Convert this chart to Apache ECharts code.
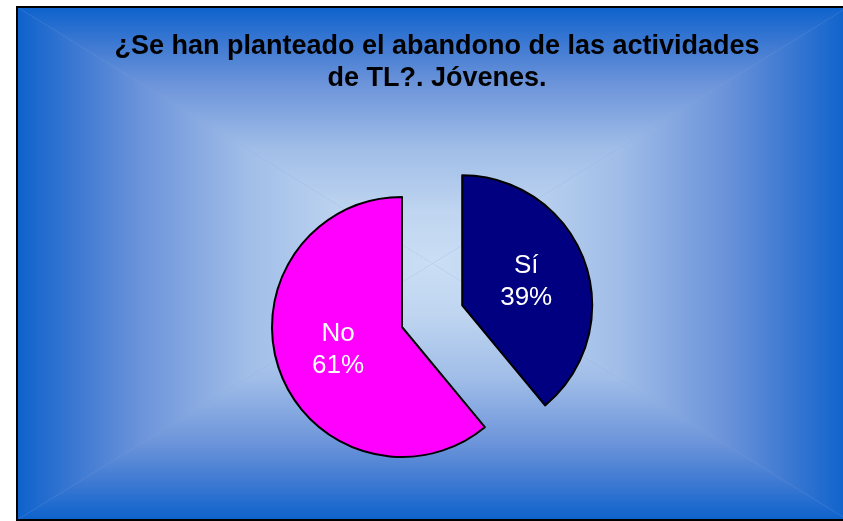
<!DOCTYPE html>
<html>
<head>
<meta charset="utf-8">
<script src="https://cdn.jsdelivr.net/npm/echarts@6/dist/echarts.min.js"></script>
<style>
html,body{margin:0;padding:0;background:#ffffff;}
#chart{width:843px;height:521px;}
</style>
</head>
<body>
<div id="chart"></div>
<script>
const titleLines = ['¿Se han planteado el abandono de las actividades', 'de TL?. Jóvenes.'];
const categories = ['Sí', 'No'];
const values = [39, 61];
const sliceColors = ['#000080', '#ff00ff'];

const chart = echarts.init(document.getElementById('chart'), null, {renderer: 'canvas'});

const L = 17, T = 7, R = 848, B = 520;
const CX = (L + R) / 2, CY = (T + B) / 2;
const stops = [
  {offset: 0, color: '#0d62cc'},
  {offset: 0.15, color: '#3f7ad2'},
  {offset: 0.3, color: '#6c94da'},
  {offset: 0.55, color: '#a0bde8'},
  {offset: 0.8, color: '#bfd5f0'},
  {offset: 1, color: '#cadef4'}
];
function grad(x, y, x2, y2) {
  return {type: 'linear', x: x, y: y, x2: x2, y2: y2, global: true, colorStops: stops};
}
function tri(points, fill) {
  return {type: 'polygon', z: -10, silent: true, shape: {points: points}, style: {fill: fill}};
}

const option = {
  animation: false,
  backgroundColor: '#ffffff',
  graphic: [
    {type: 'rect', z: -11, silent: true, shape: {x: L, y: T, width: R - L, height: B - T}, style: {fill: '#7da3de'}},
    tri([[L, T], [R, T], [CX, CY]], grad(0, T, 0, CY)),
    tri([[L, B], [R, B], [CX, CY]], grad(0, B, 0, CY)),
    tri([[L, T], [L, B], [CX, CY]], grad(L, 0, CX, 0)),
    tri([[R, T], [R, B], [CX, CY]], grad(R, 0, CX, 0)),
    {type: 'rect', z: 100, silent: true, shape: {x: L, y: T, width: R - L, height: B - T},
     style: {fill: null, stroke: '#000000', lineWidth: 2}}
  ],
  title: {
    text: titleLines.join('\n'),
    left: 432,
    top: 26,
    textAlign: 'center',
    textStyle: {
      fontFamily: 'Liberation Sans',
      fontSize: 27,
      fontWeight: 'bold',
      color: '#000000',
      lineHeight: 32
    }
  },
  series: [{
    type: 'pie',
    center: [402, 327],
    radius: 130,
    startAngle: 90,
    clockwise: true,
    selectedMode: 'single',
    selectedOffset: 64,
    avoidLabelOverlap: false,
    itemStyle: {borderColor: '#000000', borderWidth: 2},
    label: {
      show: true,
      position: 'inside',
      formatter: '{b}\n{d}%',
      color: '#ffffff',
      fontFamily: 'Liberation Sans',
      fontSize: 26,
      lineHeight: 32
    },
    labelLine: {show: false},
    emphasis: {disabled: true},
    data: categories.map((c, i) => ({
      name: c,
      value: values[i],
      selected: i === 0,
      itemStyle: {color: sliceColors[i]}
    }))
  }]
};
chart.setOption(option);
</script>
</body>
</html>
